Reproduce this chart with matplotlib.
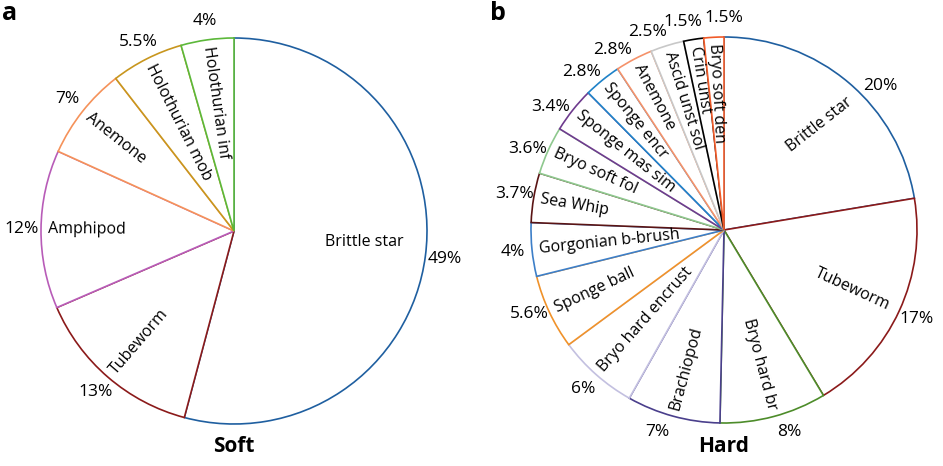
import numpy as np
import matplotlib.pyplot as plt

plt.rcParams['font.family'] = ['Open Sans', 'DejaVu Sans']

# Soft substrate
soft_labels = ['Brittle star', 'Tubeworm', 'Amphipod', 'Anemone', 'Holothurian mob', 'Holothurian inf']
soft_values = [49, 13, 12, 7, 5.5, 4]
soft_pct = ['49%', '13%', '12%', '7%', '5.5%', '4%']
soft_colors = ['#1f5fa0', '#8b1a1a', '#b85cb8', '#f5925a', '#c8961e', '#5cb83a']

# Hard substrate
hard_labels = ['Brittle star', 'Tubeworm', 'Bryo hard br', 'Brachiopod', 'Bryo hard encrust',
               'Sponge ball', 'Gorgonian b-brush', 'Sea Whip', 'Bryo soft fol', 'Sponge mas sim',
               'Sponge encr', 'Anemone', 'Ascid unst sol', 'Crin unst', 'Bryo soft den']
hard_values = [20, 17, 8, 7, 6, 5.6, 4, 3.7, 3.6, 3.4, 2.8, 2.8, 2.5, 1.5, 1.5]
hard_pct = ['20%', '17%', '8%', '7%', '6%', '5.6%', '4%', '3.7%', '3.6%', '3.4%',
            '2.8%', '2.8%', '2.5%', '1.5%', '1.5%']
hard_colors = ['#1f5fa0', '#8b1a1a', '#4d8c2a', '#4a3f8c', '#c3c0e0', '#f0922a', '#3d7fc8',
               '#5a1414', '#8ec88e', '#6e3b8e', '#1f82c8', '#f5926a', '#c8c8c8', '#000000', '#f05a28']

W, H = 943, 466
R_PX = 193
L = 1.3


def draw_pie(cx, cy, labels, values, pct, colors, title, letter, letter_x,
             rot_over={}, rend_over={}, ang_nudge={}, pct_nudge={}):
    side = 2 * L * R_PX
    ax = fig.add_axes([(cx - side / 2) / W, (H - cy - side / 2) / H, side / W, side / H])
    wedges, _ = ax.pie(values, startangle=90, counterclock=False,
                       wedgeprops=dict(facecolor='white', linewidth=1.2))
    for w, c in zip(wedges, colors):
        w.set_edgecolor(c)
    for i, w in enumerate(wedges):
        mid = (w.theta1 + w.theta2) / 2
        t = np.deg2rad(mid + ang_nudge.get(i, 0))
        r_end = rend_over.get(i, 0.965)
        x, y = r_end * np.cos(t), r_end * np.sin(t)
        if np.cos(np.deg2rad(mid)) >= 0:
            rot, ha = mid, 'right'
        else:
            rot, ha = mid + 180, 'left'
        rot = rot_over.get(i, rot)
        ax.text(x, y, labels[i], rotation=rot, rotation_mode='anchor',
                ha=ha, va='center', fontsize=11.5)
        tp = np.deg2rad(mid + pct_nudge.get(i, 0))
        ax.text(1.1 * np.cos(tp), 1.1 * np.sin(tp), pct[i], ha='center', va='center', fontsize=12.5)
    ax.set_aspect('equal')
    ax.set_xlim(-L, L)
    ax.set_ylim(-L, L)
    ax.axis('off')
    fig.text(cx / W, 1 - 446 / H, title, ha='center', va='center', fontsize=15, fontweight='bold')
    fig.text(letter_x / W, 1 - 14 / H, letter, ha='left', va='center', fontsize=18, fontweight='bold')


fig = plt.figure(figsize=(9.43, 4.66), dpi=100)

draw_pie(234, 231, soft_labels, soft_values, soft_pct, soft_colors, 'Soft', 'a', 2,
         rot_over={0: 0}, rend_over={0: 0.88}, ang_nudge={0: 3.8})
draw_pie(724, 230, hard_labels, hard_values, hard_pct, hard_colors, 'Hard', 'b', 490,
         rot_over={0: 38}, rend_over={0: 0.94, 1: 0.94}, ang_nudge={0: -4},
         pct_nudge={0: -7, 2: 3, 3: -3, 5: -2, 8: 2, 9: 3, 10: 3, 11: 4, 12: 4, 13: 2, 14: -3})

plt.savefig('out.png', dpi=100)
